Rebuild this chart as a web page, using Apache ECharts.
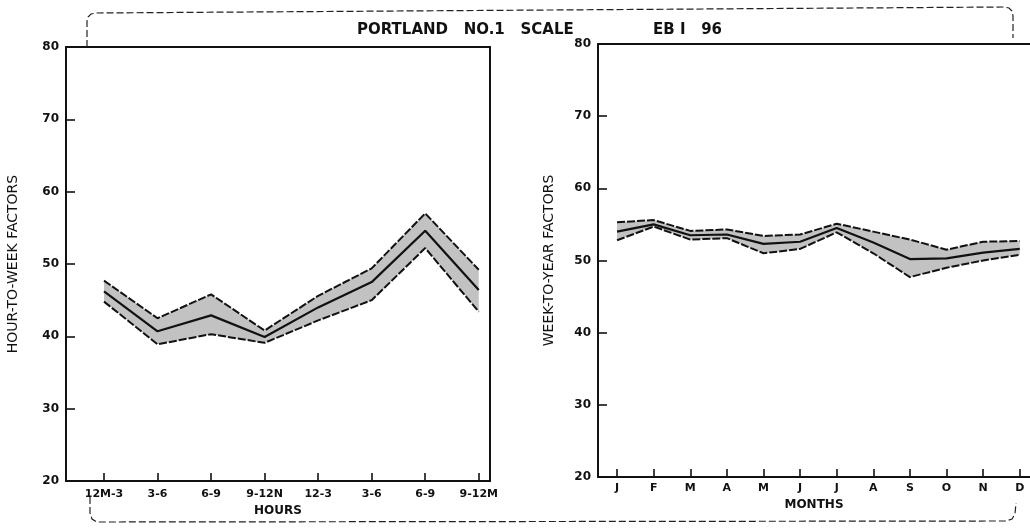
<!DOCTYPE html>
<html>
<head>
<meta charset="utf-8">
<script src="https://cdn.jsdelivr.net/npm/echarts@6/dist/echarts.min.js"></script>
<style>
  html, body { margin: 0; padding: 0; background: #fff; }
  #main { width: 1030px; height: 529px; }
</style>
</head>
<body>
<div id="main"></div>
<script>
(function () {
    'use strict';

    // 小时段
    var hours = ['12M-3', '3-6', '6-9', '9-12N', '12-3', '3-6', '6-9', '9-12M'];
    var hourMean = [46.2, 40.7, 42.9, 39.9, 44.0, 47.5, 54.6, 46.4];
    var hourUpper = [47.7, 42.5, 45.8, 40.8, 45.6, 49.4, 57.0, 49.2];
    var hourLower = [44.8, 38.9, 40.3, 39.1, 42.2, 45.0, 52.2, 43.4];

    // 月份
    var months = ['J', 'F', 'M', 'A', 'M', 'J', 'J', 'A', 'S', 'O', 'N', 'D'];
    var monthMean = [54.0, 55.0, 53.5, 53.6, 52.3, 52.6, 54.5, 52.5, 50.2, 50.3, 51.1, 51.6];
    var monthUpper = [55.3, 55.6, 54.1, 54.3, 53.4, 53.6, 55.1, 54.0, 52.9, 51.5, 52.6, 52.7];
    var monthLower = [52.8, 54.7, 52.9, 53.1, 51.0, 51.6, 53.9, 51.0, 47.7, 49.0, 50.0, 50.8];

    var yTicks = [20, 30, 40, 50, 60, 70, 80];

    var font = 'DejaVu Sans';
    var ink = '#111';

    function pairs(arr) {
        return arr.map(function (v, i) { return [i, v]; });
    }
    function idx(n) {
        var r = [];
        for (var i = 0; i < n; i++) r.push(i);
        return r;
    }

    function xAxisOf(grid, cats, min, max, name, gap, margin) {
        return {
            type: 'value', gridIndex: grid, min: min, max: max,
            name: name, nameLocation: 'middle', nameGap: gap,
            nameTextStyle: { fontFamily: font, fontSize: 12, color: ink, fontWeight: 600 },
            axisLine: { show: true, onZero: false, lineStyle: { color: ink, width: 2 } },
            axisTick: { show: true, inside: true, length: 8, customValues: idx(cats.length),
                lineStyle: { color: ink, width: 1.6 } },
            axisLabel: { customValues: idx(cats.length), margin: margin, color: ink,
                fontFamily: font, fontSize: 11, fontWeight: 600,
                formatter: function (v) { return cats[Math.round(v)]; } },
            splitLine: { show: false }
        };
    }

    // 上边框
    function topLine(grid, min, max) {
        return {
            type: 'value', gridIndex: grid, min: min, max: max, position: 'top',
            axisLine: { show: true, onZero: false, lineStyle: { color: ink, width: 2 } },
            axisTick: { show: false }, axisLabel: { show: false }, splitLine: { show: false }
        };
    }

    function yAxisOf(grid, name, gap) {
        return {
            type: 'value', gridIndex: grid, min: 20, max: 80, interval: 10,
            name: name, nameLocation: 'middle', nameGap: gap, nameRotate: 90,
            nameTextStyle: { fontFamily: font, fontSize: 14, color: ink },
            axisLine: { show: true, onZero: false, lineStyle: { color: ink, width: 2 } },
            axisTick: { show: true, inside: true, length: 9, lineStyle: { color: ink, width: 1.6 } },
            axisLabel: { margin: 7, color: ink, fontFamily: font, fontSize: 12, fontWeight: 600,
                formatter: function (v) { return yTicks.indexOf(v) >= 0 ? String(v) : ''; } },
            splitLine: { show: false }
        };
    }

    function band(grid, mean, up, lo) {
        var edge = { color: ink, width: 2, type: [8, 2] };
        return [{
            type: 'custom', xAxisIndex: grid, yAxisIndex: grid, silent: true, z: 1,
            data: [0],
            renderItem: function (params, api) {
                var pts = [];
                var i;
                for (i = 0; i < up.length; i++) pts.push(api.coord([i, up[i]]));
                for (i = lo.length - 1; i >= 0; i--) pts.push(api.coord([i, lo[i]]));
                return { type: 'polygon', shape: { points: pts },
                    style: { fill: '#c2c2c2', stroke: null } };
            }
        }, {
            type: 'line', xAxisIndex: grid, yAxisIndex: grid, z: 2,
            data: pairs(lo), showSymbol: false, lineStyle: edge, silent: true
        }, {
            type: 'line', xAxisIndex: grid, yAxisIndex: grid, z: 2,
            data: pairs(up), showSymbol: false, lineStyle: edge, silent: true
        }, {
            type: 'line', xAxisIndex: grid, yAxisIndex: grid, z: 3,
            data: pairs(mean), showSymbol: false, silent: true,
            lineStyle: { color: ink, width: 2.2 }
        }];
    }

    // 虚线括号
    var dash = { stroke: '#222', lineWidth: 1.2, lineDash: [7, 3], fill: null };
    var topBracket = [[87, 47], [87, 21], [88, 17], [91, 14], [96, 13], [1004, 7], [1009, 8], [1012, 11], [1013, 16], [1013, 38]];
    var bottomBracket = [[90, 497], [90, 513], [92, 519], [97, 522], [1006, 521], [1012, 519], [1015, 514], [1016, 503]];

    var myChart = echarts.init(document.getElementById('main'));

    var option = {
        backgroundColor: '#fff',
        animation: false,
        title: [{
            text: 'PORTLAND   NO.1   SCALE', left: 352, top: 18,
            textStyle: { fontFamily: font, fontSize: 15, fontWeight: 'bold', color: ink }
        }, {
            text: 'EB I   96', left: 648, top: 18,
            textStyle: { fontFamily: font, fontSize: 15, fontWeight: 'bold', color: ink }
        }],
        grid: [
            { left: 66, top: 47, width: 424, height: 434, show: true,
              borderColor: ink, borderWidth: 2, backgroundColor: 'transparent' },
            { left: 598, top: 44, width: 432, height: 433, show: false }
        ],
        xAxis: [
            xAxisOf(0, hours, -0.71, 7.21, 'HOURS', 22, 8),
            xAxisOf(1, months, -0.52, 11.28, 'MONTHS', 20, 6),
            topLine(1, -0.52, 11.28)
        ],
        yAxis: [
            yAxisOf(0, 'HOUR-TO-WEEK FACTORS', 46),
            yAxisOf(1, 'WEEK-TO-YEAR FACTORS', 42)
        ],
        series: band(0, hourMean, hourUpper, hourLower).concat(band(1, monthMean, monthUpper, monthLower)),
        graphic: [
            { type: 'polyline', silent: true, shape: { points: topBracket }, style: dash },
            { type: 'polyline', silent: true, shape: { points: bottomBracket }, style: dash }
        ]
    };

    myChart.setOption(option);
    window.addEventListener('resize', function () {
        myChart.resize();
    });
})();
</script>
</body>
</html>
